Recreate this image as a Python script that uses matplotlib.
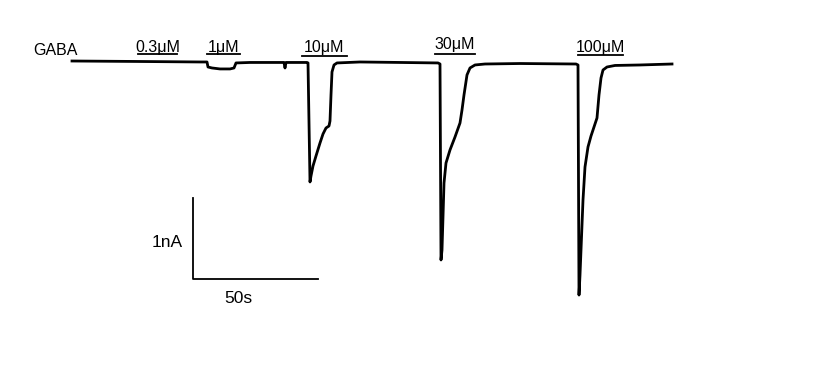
import matplotlib
matplotlib.use("Agg")
import matplotlib.pyplot as plt

plt.rcParams['font.family'] = ['Liberation Sans', 'DejaVu Sans']

# Current trace: time (s) and current (nA)
time_s = [0, 27.2, 51.2, 54.0, 54.4, 56.0, 59.2, 63.2, 64.8, 65.6, 71.2, 84.8, 85.2, 85.6,
          94.0, 94.4, 95.2, 95.6, 96.4, 97.6, 99.2, 100.4, 101.6, 102.8, 103.2, 103.6, 104.0,
          104.8, 106.0, 115.2, 131.2, 146.4, 147.2, 147.6, 148.0, 148.4, 148.8, 149.6, 151.2,
          153.2, 155.2, 156.0, 156.8, 158.0, 159.2, 161.2, 165.2, 179.2, 201.6, 202.4, 202.8,
          203.2, 203.6, 204.4, 205.2, 206.4, 207.6, 208.4, 210.0, 210.8, 211.6, 212.4, 214.0,
          217.2, 227.2, 240.0]
current_nA = [0.012, 0.006, 0, 0, -0.062, -0.074, -0.086, -0.086, -0.074, -0.012, -0.006,
              -0.006, -0.074, -0.006, -0.006, -0.012, -1.481, -1.407, -1.284, -1.160, -1.000,
              -0.889, -0.815, -0.790, -0.728, -0.407, -0.123, -0.037, -0.012, 0, -0.006,
              -0.012, -0.025, -2.444, -2.321, -1.914, -1.494, -1.247, -1.086, -0.926, -0.753,
              -0.593, -0.407, -0.160, -0.074, -0.037, -0.025, -0.019, -0.025, -0.037, -2.877,
              -2.630, -2.321, -1.704, -1.296, -1.049, -0.914, -0.840, -0.691, -0.407, -0.198,
              -0.099, -0.062, -0.043, -0.037, -0.025]

# GABA applications
conc_labels = ['0.3μM', '1μM', '10μM', '30μM', '100μM']
app_start = [26.4, 54.0, 92.0, 145.2, 202.4]
app_end = [42.0, 67.2, 110.0, 161.2, 220.4]
label_base = [0.123, 0.123, 0.123, 0.160, 0.123]
bar_level = [0.099, 0.099, 0.074, 0.099, 0.086]

# Scale bars
scale_t0 = 48.4
scale_len_s = 50
scale_I0 = -2.679
scale_len_nA = 1.0

fig = plt.figure(figsize=(8.31, 3.90), dpi=100)
ax = fig.add_axes([0, 0, 1, 1])
ax.set_xlim(-28.8, 303.6)
ax.set_ylim(-4.049, 0.765)
ax.axis('off')

ax.plot(time_s, current_nA, color='black', lw=2.0, solid_joinstyle='round')

for lab, s, e, yb, yl in zip(conc_labels, app_start, app_end, label_base, bar_level):
    ax.plot([s, e], [yl, yl], color='black', lw=1.3)
    ax.text((s + e) / 2, yb, lab, ha='center', va='baseline', fontsize=11.5)

ax.text(-15.6, 0.086, 'GABA', ha='left', va='baseline', fontsize=11.5)

ax.plot([scale_t0, scale_t0, scale_t0 + scale_len_s],
        [scale_I0 + scale_len_nA, scale_I0, scale_I0], color='black', lw=1.3)
ax.text(scale_t0 - 4, scale_I0 + 0.45, '1nA', ha='right', va='center', fontsize=12.5)
ax.text(scale_t0 + 18, scale_I0 - 0.235, '50s', ha='center', va='center', fontsize=12.5)

fig.savefig('out.png', dpi=100)
